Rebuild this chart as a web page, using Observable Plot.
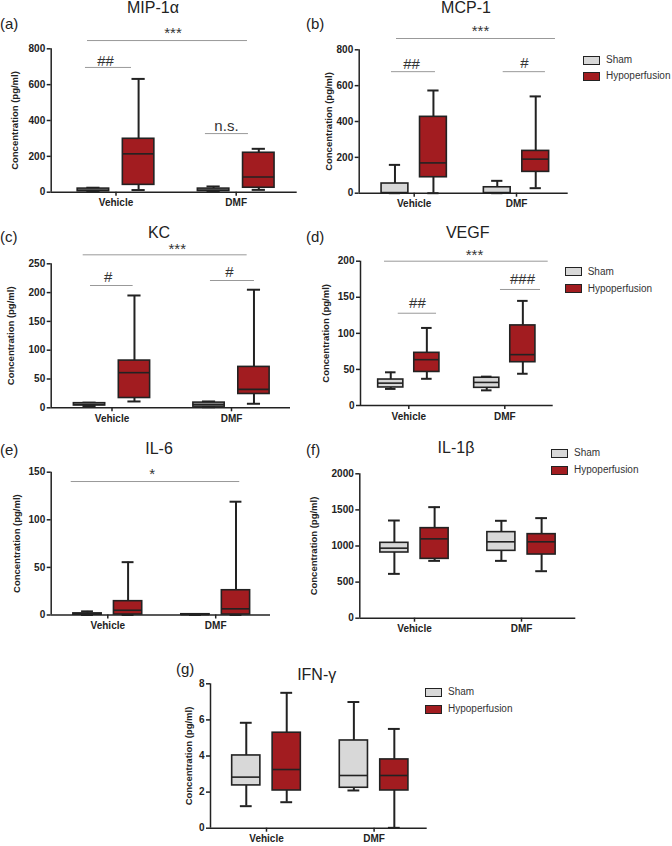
<!DOCTYPE html>
<html><head><meta charset="utf-8">
<script src="https://cdn.jsdelivr.net/npm/d3@7"></script>
<script src="https://cdn.jsdelivr.net/npm/@observablehq/plot@0.6"></script>
<style>
body{margin:0;background:#fff;}
#fig{position:relative;width:672px;height:846px;overflow:hidden;font-family:"Liberation Sans",Arial,sans-serif;color:#222;}
#fig svg{position:absolute;left:0;top:0;}
.t{position:absolute;white-space:nowrap;line-height:1;transform:translate(-50%,-50%);}
.l{position:absolute;white-space:nowrap;line-height:1;transform:translateY(-50%);}
.sw{position:absolute;box-sizing:border-box;width:17px;height:9px;border:1.5px solid #222;}
</style></head><body><div id="fig"></div><script>
// ---------- data ----------
const groups = ["Vehicle", "DMF"];
const series = ["Sham", "Hypoperfusion"];
const yLabel = "Concentration (pg/ml)";
// each row: [min, q1, median, q3, max]; first row Vehicle, second DMF
const mip1aSham = [[2, 5, 12, 20, 25], [3, 6, 12, 20, 32]];
const mip1aHypo = [[12, 41, 214, 298, 632], [13, 25, 85, 220, 242]];
const mip1aTicks = [0, 200, 400, 600, 800];

const mcp1Sham = [[0, 0, 3, 54, 158], [0, 0, 3, 33, 69]];
const mcp1Hypo = [[0, 89, 169, 426, 573], [28, 119, 190, 236, 540]];
const mcp1Ticks = [0, 200, 400, 600, 800];

const kcSham = [[3, 4, 6, 8, 9], [1, 2, 6, 9, 11]];
const kcHypo = [[11, 17, 61, 82, 195], [7, 24, 32, 71, 205]];
const kcTicks = [0, 50, 100, 150, 200, 250];

const vegfSham = [[23, 25, 31, 36, 46], [21, 24.5, 32, 38.5, 40]];
const vegfHypo = [[37, 46.5, 63.5, 73, 107.5], [44, 60, 70.5, 111, 145]];
const vegfTicks = [0, 50, 100, 150, 200];

const il6Sham = [[0, 0.3, 1, 1.7, 3.8], [0, 0.2, 0.5, 0.8, 1]];
const il6Hypo = [[0, 0.5, 5, 14.5, 55.5], [0, 0.5, 6.5, 26, 119]];
const il6Ticks = [0, 50, 100, 150];

const il1bSham = [[614, 910, 970, 1044, 1353], [794, 933, 1058, 1192, 1349]];
const il1bHypo = [[794, 822, 1099, 1247, 1538], [651, 882, 1058, 1164, 1386]];
const il1bTicks = [0, 500, 1000, 1500, 2000];

const ifngSham = [[1.22, 2.37, 2.83, 4.03, 5.84], [2.09, 2.24, 2.92, 4.86, 6.99]];
const ifngHypo = [[1.44, 2.09, 3.25, 5.29, 7.5], [0.02, 2.09, 2.92, 3.81, 5.5]];
const ifngTicks = [0, 2, 4, 6, 8];

// significance annotations (x in group units, y in value units)
const mip1aSig = [
  {label: "***", x: 0.474, y: 885, x1: -0.237, x2: 1.094, ly: 846},
  {label: "##", x: -0.087, y: 729, x1: -0.254, x2: 0.129, ly: 696},
  {label: "n.s.", x: 0.919, y: 367, x1: 0.744, x2: 1.102, ly: 327}
];
const mcp1Sig = [
  {label: "***", x: 0.648, y: 902, x1: -0.173, x2: 1.381, ly: 863},
  {label: "##", x: -0.026, y: 718, x1: -0.222, x2: 0.208, ly: 678},
  {label: "#", x: 1.078, y: 724, x1: 0.870, x2: 1.283, ly: 678}
];
const kcSig = [
  {label: "***", x: 0.546, y: 274.8, x1: -0.241, x2: 1.131, ly: 265.6},
  {label: "#", x: -0.032, y: 226.7, x1: -0.18, x2: 0.177, ly: 212.3},
  {label: "#", x: 0.983, y: 235.4, x1: 0.824, x2: 1.192, ly: 221}
];
const vegfSig = [
  {label: "***", x: 0.684, y: 207.9, x1: -0.253, x2: 1.452, ly: 200},
  {label: "##", x: 0.09, y: 141.8, x1: -0.11, x2: 0.289, ly: 127.9},
  {label: "###", x: 1.184, y: 174.6, x1: 0.955, x2: 1.372, ly: 160.8}
];
const il6Sig = [
  {label: "*", x: 0.411, y: 147.6, x1: -0.339, x2: 1.223, ly: 140.2}
];

// ---------- layout & style ----------
const SHAM = "#d8d8d8", HYPO = "#a21c20", INK = "#222";
const OFF = 0.188, HW = 0.131, CAP = 0.055;
const panels = [
  {letter: "(a)", title: "MIP-1α", sham: mip1aSham, hypo: mip1aHypo, ticks: mip1aTicks, sig: mip1aSig,
   L: 50.7, R: 296.7, T: 48.3, B: 191.7, veh: 115.5, dmf: 235.7, labelDx: -36.7,
   tpos: [153, 8], lpos: [0, 23]},
  {letter: "(b)", title: "MCP-1", sham: mcp1Sham, hypo: mcp1Hypo, ticks: mcp1Ticks, sig: mcp1Sig,
   L: 358.7, R: 567.7, T: 49.3, B: 192.7, veh: 413.7, dmf: 516, labelDx: -30.5,
   tpos: [466, 8], lpos: [306, 23], legend: [606, 60, 76]},
  {letter: "(c)", title: "KC", sham: kcSham, hypo: kcHypo, ticks: kcTicks, sig: kcSig,
   L: 50.7, R: 290, T: 263.3, B: 407.3, veh: 111.5, dmf: 231, labelDx: -40.7,
   tpos: [159, 232.5], lpos: [0, 236]},
  {letter: "(d)", title: "VEGF", sham: vegfSham, hypo: vegfHypo, ticks: vegfTicks, sig: vegfSig,
   L: 360, R: 552.7, T: 260.7, B: 405, veh: 408.3, dmf: 504.3, labelDx: -35,
   tpos: [467.7, 232.5], lpos: [306, 236], legend: [587.7, 271.7, 288.7]},
  {letter: "(e)", title: "IL-6", sham: il6Sham, hypo: il6Hypo, ticks: il6Ticks, sig: il6Sig,
   L: 50.7, R: 270, T: 471.7, B: 614.5, veh: 107.3, dmf: 215.2, labelDx: -34,
   tpos: [159, 449], lpos: [0, 449]},
  {letter: "(f)", title: "IL-1β", sham: il1bSham, hypo: il1bHypo, ticks: il1bTicks, sig: [],
   L: 359.3, R: 575.3, T: 473.3, B: 617.7, veh: 414, dmf: 521, labelDx: -46,
   tpos: [456, 448], lpos: [306, 449], legend: [574, 453, 470]},
  {letter: "(g)", title: "IFN-γ", sham: ifngSham, hypo: ifngHypo, ticks: ifngTicks, sig: [],
   L: 210, R: 426.7, T: 683.3, B: 827.7, veh: 266, dmf: 373.6, labelDx: -22,
   tpos: [316.7, 674.5], lpos: [176, 668], legend: [448, 692, 709.3]}
];

const fig = document.getElementById("fig");
function addDiv(cls, text, x, y, css) {
  const d = document.createElement("div");
  d.className = cls; d.textContent = text;
  d.style.left = x + "px"; d.style.top = y + "px";
  if (css) d.style.cssText += css;
  fig.appendChild(d);
  return d;
}

for (const p of panels) {
  const u = p.dmf - p.veh;
  const x0 = (p.L - p.veh) / u, x1 = (p.R - p.veh) / u;
  const yMax = p.ticks[p.ticks.length - 1];
  const rows = [];
  [p.sham, p.hypo].forEach((arr, si) => arr.forEach((v, g) => {
    const c = g + (si ? OFF : -OFF);
    rows.push({series: series[si], c, lo: c - HW, hi: c + HW, cl: c - CAP, cr: c + CAP,
      min: v[0], q1: v[1], med: v[2], q3: v[3], max: v[4]});
  }));
  const svg = Plot.plot({
    width: 672, height: 846,
    marginLeft: p.L, marginRight: 672 - p.R, marginTop: p.T, marginBottom: 846 - p.B,
    x: {type: "linear", domain: [x0, x1], axis: null},
    y: {domain: [0, yMax], axis: null},
    color: {domain: series, range: [SHAM, HYPO]},
    style: "background:transparent;overflow:visible;max-width:none;font-family:'Liberation Sans',Arial,sans-serif;color:#222;",
    marks: [
      Plot.ruleX(rows, {x: "c", y1: "q3", y2: "max", stroke: INK, strokeWidth: 2}),
      Plot.ruleX(rows, {x: "c", y1: "min", y2: "q1", stroke: INK, strokeWidth: 2}),
      Plot.ruleY(rows, {x1: "cl", x2: "cr", y: "max", stroke: INK, strokeWidth: 2}),
      Plot.ruleY(rows, {x1: "cl", x2: "cr", y: "min", stroke: INK, strokeWidth: 2}),
      Plot.rect(rows, {x1: "lo", x2: "hi", y1: "q1", y2: "q3", fill: "series", stroke: INK, strokeWidth: 1.6}),
      Plot.ruleY(rows, {x1: "lo", x2: "hi", y: "med", stroke: INK, strokeWidth: 1.6}),
      Plot.ruleX([x0], {stroke: INK, strokeWidth: 1.5}),
      Plot.ruleY([0], {stroke: INK, strokeWidth: 1.5}),
      Plot.axisY({ticks: p.ticks, tickFormat: d => String(d), tickSize: 4, tickPadding: 2,
        fontWeight: "bold", fontSize: 10, label: null, strokeWidth: 1.5}),
      Plot.axisX({ticks: [0, 1], tickFormat: i => groups[i], tickSize: 4, tickPadding: 3,
        fontWeight: "bold", fontSize: 10, label: null, strokeWidth: 1.5}),
      Plot.text([yLabel], {frameAnchor: "left", textAnchor: "middle", lineAnchor: "middle",
        rotate: -90, dx: p.labelDx, text: d => d, fontWeight: "bold", fontSize: 9.5}),
      Plot.ruleY(p.sig, {x1: "x1", x2: "x2", y: "ly", stroke: "#999", strokeWidth: 1}),
      Plot.text(p.sig, {x: "x", y: "y", text: "label", fontSize: 15, fill: "#333"})
    ]
  });
  fig.appendChild(svg);
  addDiv("t", p.title, p.tpos[0], p.tpos[1], "font-size:16px;");
  addDiv("l", p.letter, p.lpos[0], p.lpos[1], "font-size:15px;");
  if (p.legend) {
    const [tx, y1, y2] = p.legend;
    [[series[0], SHAM, y1], [series[1], HYPO, y2]].forEach(([name, col, y]) => {
      const s = document.createElement("div");
      s.className = "sw"; s.style.left = (tx - 23) + "px"; s.style.top = (y - 4.5) + "px";
      s.style.background = col; fig.appendChild(s);
      addDiv("l", name, tx, y, "font-size:10px;color:#333;");
    });
  }
}
</script></body></html>
